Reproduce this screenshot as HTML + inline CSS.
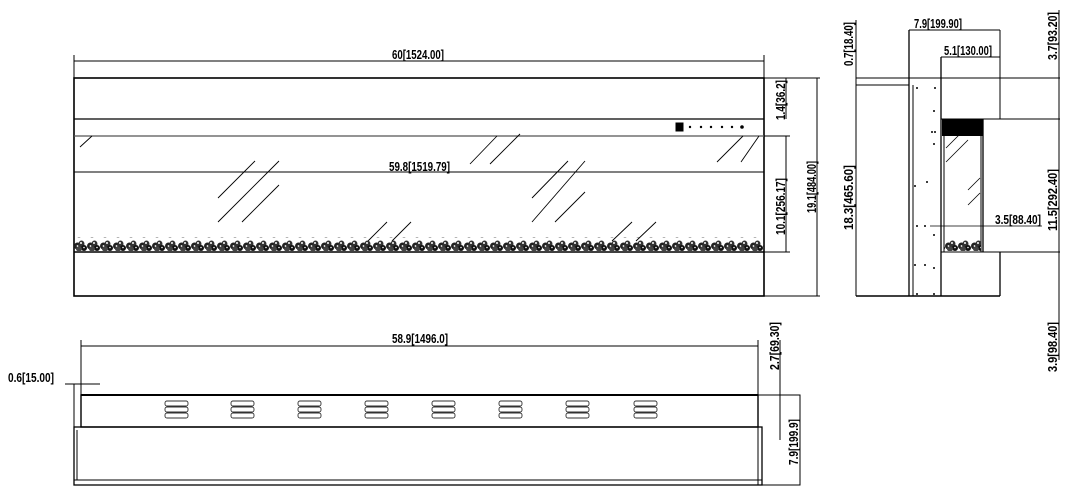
<!DOCTYPE html>
<html><head><meta charset="utf-8"><style>
html,body{margin:0;padding:0;background:#fff;}
svg{display:block;}
text{font-family:"Liberation Sans Narrow","Liberation Sans",sans-serif;font-weight:bold;font-size:13px;fill:#000;}
</style></head><body>
<svg width="1067" height="493" viewBox="0 0 1067 493" xmlns="http://www.w3.org/2000/svg">
<defs>
<pattern id="peb" x="74" y="238" width="13" height="14" patternUnits="userSpaceOnUse">
<ellipse cx="3.5" cy="8" rx="3.5" ry="3.5" fill="#222"/>
<ellipse cx="7.5" cy="6" rx="3" ry="3.5" fill="#333"/>
<ellipse cx="10" cy="10" rx="3" ry="3" fill="#111"/>
<ellipse cx="5" cy="11" rx="3" ry="2.5" fill="#444"/>
<circle cx="7" cy="5" r="1" fill="#fff"/>
<circle cx="3.5" cy="8" r="0.9" fill="#fff"/>
<circle cx="10" cy="9.5" r="0.8" fill="#fff"/>
</pattern>
</defs>
<g stroke="#000" fill="none" stroke-width="1">
<rect x="74" y="78" width="690" height="218" stroke-width="1.6"/>
<line x1="74" y1="119" x2="764" y2="119" stroke-width="1.3"/>
<line x1="74" y1="136" x2="764" y2="136" stroke="#555" stroke-width="1.3"/>
<line x1="74" y1="252" x2="764" y2="252" stroke-width="1.6"/>
<line x1="74" y1="61" x2="764" y2="61"/>
<line x1="764" y1="55" x2="764" y2="78"/>
<line x1="74" y1="55" x2="74" y2="78"/>
<line x1="74" y1="172" x2="764" y2="172"/>
<g stroke-width="0.9">
<line x1="80" y1="147" x2="92" y2="136"/>
<line x1="218" y1="198" x2="255" y2="161"/>
<line x1="218" y1="222" x2="279" y2="161"/>
<line x1="242" y1="222" x2="279" y2="185"/>
<line x1="368" y1="241" x2="387" y2="222"/>
<line x1="392" y1="241" x2="411" y2="222"/>
<line x1="470" y1="164" x2="497" y2="136"/>
<line x1="490" y1="164" x2="520" y2="134"/>
<line x1="532" y1="198" x2="568" y2="161"/>
<line x1="532" y1="222" x2="585" y2="161"/>
<line x1="555" y1="222" x2="585" y2="192"/>
<line x1="612" y1="241" x2="632" y2="222"/>
<line x1="636" y1="241" x2="656" y2="222"/>
<line x1="717" y1="162" x2="743" y2="136"/>
<line x1="741" y1="162" x2="759" y2="136"/>
</g>
<rect x="74" y="237" width="690" height="14" fill="url(#peb)" stroke="none"/>
<rect x="676" y="123" width="7" height="8" fill="#000"/>
<line x1="764" y1="78" x2="790" y2="78"/>
<line x1="786" y1="78" x2="786" y2="119"/>
<line x1="764" y1="136" x2="790" y2="136"/>
<line x1="786" y1="136" x2="786" y2="252"/>
<line x1="764" y1="252" x2="790" y2="252"/>
<line x1="764" y1="78" x2="820" y2="78"/>
<line x1="764" y1="296" x2="820" y2="296"/>
<line x1="817" y1="78" x2="817" y2="296"/>
<line x1="856" y1="20" x2="856" y2="296"/>
<line x1="856" y1="78" x2="1060" y2="78"/>
<line x1="856" y1="85" x2="909" y2="85"/>
<line x1="856" y1="296" x2="1000" y2="296" stroke-width="1.4"/>
<line x1="909" y1="30" x2="909" y2="296" stroke-width="1.3"/>
<line x1="913" y1="85" x2="913" y2="296"/>
<line x1="941" y1="57" x2="941" y2="296" stroke-width="1.3"/>
<line x1="1000" y1="30" x2="1000" y2="119"/>
<line x1="909" y1="30" x2="1000" y2="30"/>
<line x1="941" y1="57" x2="1000" y2="57"/>
<line x1="941" y1="119" x2="1060" y2="119"/>
<rect x="942" y="119" width="41" height="17" fill="#000" stroke="none"/>
<line x1="944" y1="119" x2="944" y2="252"/>
<line x1="981" y1="119" x2="981" y2="252"/>
<line x1="983" y1="119" x2="983" y2="252" stroke-width="1.3"/>
<line x1="941" y1="252" x2="1060" y2="252"/>
<line x1="1000" y1="252" x2="1000" y2="296" stroke-width="1.3"/>
<line x1="1059" y1="10" x2="1059" y2="360"/>
<line x1="930" y1="226" x2="1042" y2="226" stroke-width="0.8"/>
<line x1="946" y1="148" x2="968" y2="126" stroke-width="0.8"/>
<line x1="946" y1="162" x2="968" y2="140" stroke-width="0.8"/>
<line x1="968" y1="190" x2="980" y2="178" stroke-width="0.8"/>
<line x1="968" y1="205" x2="980" y2="193" stroke-width="0.8"/>
<rect x="944" y="238" width="37" height="13" fill="url(#peb)" stroke="none"/>
<line x1="81" y1="346" x2="758" y2="346"/>
<line x1="81" y1="340" x2="81" y2="395"/>
<line x1="758" y1="340" x2="758" y2="395"/>
<rect x="81" y="395" width="677" height="32" stroke-width="1.4"/>
<line x1="81" y1="395" x2="758" y2="395" stroke-width="2"/>
<rect x="74" y="427" width="688" height="58" stroke-width="1.3"/>
<line x1="74" y1="480" x2="762" y2="480"/>
<line x1="74" y1="384" x2="74" y2="485"/>
<line x1="77" y1="430" x2="77" y2="480"/>
<line x1="758" y1="430" x2="758" y2="480"/>
<rect x="758" y="395" width="42" height="90"/>
<line x1="65" y1="384" x2="100" y2="384"/>
<line x1="780" y1="340" x2="780" y2="440"/>
</g>
<g fill="#000">
<circle cx="690" cy="127" r="1.2"/><circle cx="701" cy="127" r="1.2"/><circle cx="711" cy="127" r="1.2"/>
<circle cx="722" cy="127" r="1.2"/><circle cx="732" cy="127" r="1.2"/><circle cx="742" cy="127" r="1.8"/>
<circle cx="917" cy="88" r="1"/><circle cx="935" cy="88" r="1"/><circle cx="934" cy="111" r="1"/>
<circle cx="932" cy="132" r="1"/><circle cx="935" cy="132" r="1"/><circle cx="934" cy="144" r="1"/>
<circle cx="915" cy="186" r="1"/><circle cx="927" cy="182" r="1"/><circle cx="917" cy="226" r="1"/>
<circle cx="925" cy="226" r="1"/><circle cx="934" cy="235" r="1"/><circle cx="915" cy="265" r="1"/>
<circle cx="925" cy="265" r="1"/><circle cx="934" cy="268" r="1"/><circle cx="917" cy="294" r="1"/><circle cx="934" cy="294" r="1"/>
</g>
<g fill="none" stroke="#333" stroke-width="0.9">
<g id="v"><rect x="165" y="401" width="23" height="5" rx="2"/><rect x="165" y="407" width="23" height="5" rx="2"/><rect x="165" y="413" width="23" height="5" rx="2"/></g>
<use href="#v" x="66"/><use href="#v" x="133"/><use href="#v" x="200"/><use href="#v" x="267"/><use href="#v" x="334"/><use href="#v" x="401"/><use href="#v" x="469"/>
</g>
<text x="392" y="59" textLength="52" lengthAdjust="spacingAndGlyphs">60[1524.00]</text>
<text x="389" y="171" textLength="61" lengthAdjust="spacingAndGlyphs">59.8[1519.79]</text>
<text x="392" y="343" textLength="56" lengthAdjust="spacingAndGlyphs">58.9[1496.0]</text>
<text x="8" y="382" textLength="46" lengthAdjust="spacingAndGlyphs">0.6[15.00]</text>
<text x="914" y="28" textLength="48" lengthAdjust="spacingAndGlyphs">7.9[199.90]</text>
<text x="944" y="55" textLength="48" lengthAdjust="spacingAndGlyphs">5.1[130.00]</text>
<text x="995" y="224" textLength="46" lengthAdjust="spacingAndGlyphs">3.5[88.40]</text>
<text transform="translate(785,120) rotate(-90)" textLength="40" lengthAdjust="spacingAndGlyphs">1.4[36.2]</text>
<text transform="translate(785,235) rotate(-90)" textLength="57" lengthAdjust="spacingAndGlyphs">10.1[256.17]</text>
<text transform="translate(816,213) rotate(-90)" textLength="52" lengthAdjust="spacingAndGlyphs">19.1[484.00]</text>
<text transform="translate(853,66) rotate(-90)" textLength="44" lengthAdjust="spacingAndGlyphs">0.7[18.40]</text>
<text transform="translate(853,230) rotate(-90)" textLength="65" lengthAdjust="spacingAndGlyphs">18.3[465.60]</text>
<text transform="translate(1057,60) rotate(-90)" textLength="48" lengthAdjust="spacingAndGlyphs">3.7[93.20]</text>
<text transform="translate(1057,231) rotate(-90)" textLength="62" lengthAdjust="spacingAndGlyphs">11.5[292.40]</text>
<text transform="translate(1057,372) rotate(-90)" textLength="50" lengthAdjust="spacingAndGlyphs">3.9[98.40]</text>
<text transform="translate(779,370) rotate(-90)" textLength="48" lengthAdjust="spacingAndGlyphs">2.7[69.30]</text>
<text transform="translate(798,465) rotate(-90)" textLength="46" lengthAdjust="spacingAndGlyphs">7.9[199.9]</text>
</svg>
</body></html>
